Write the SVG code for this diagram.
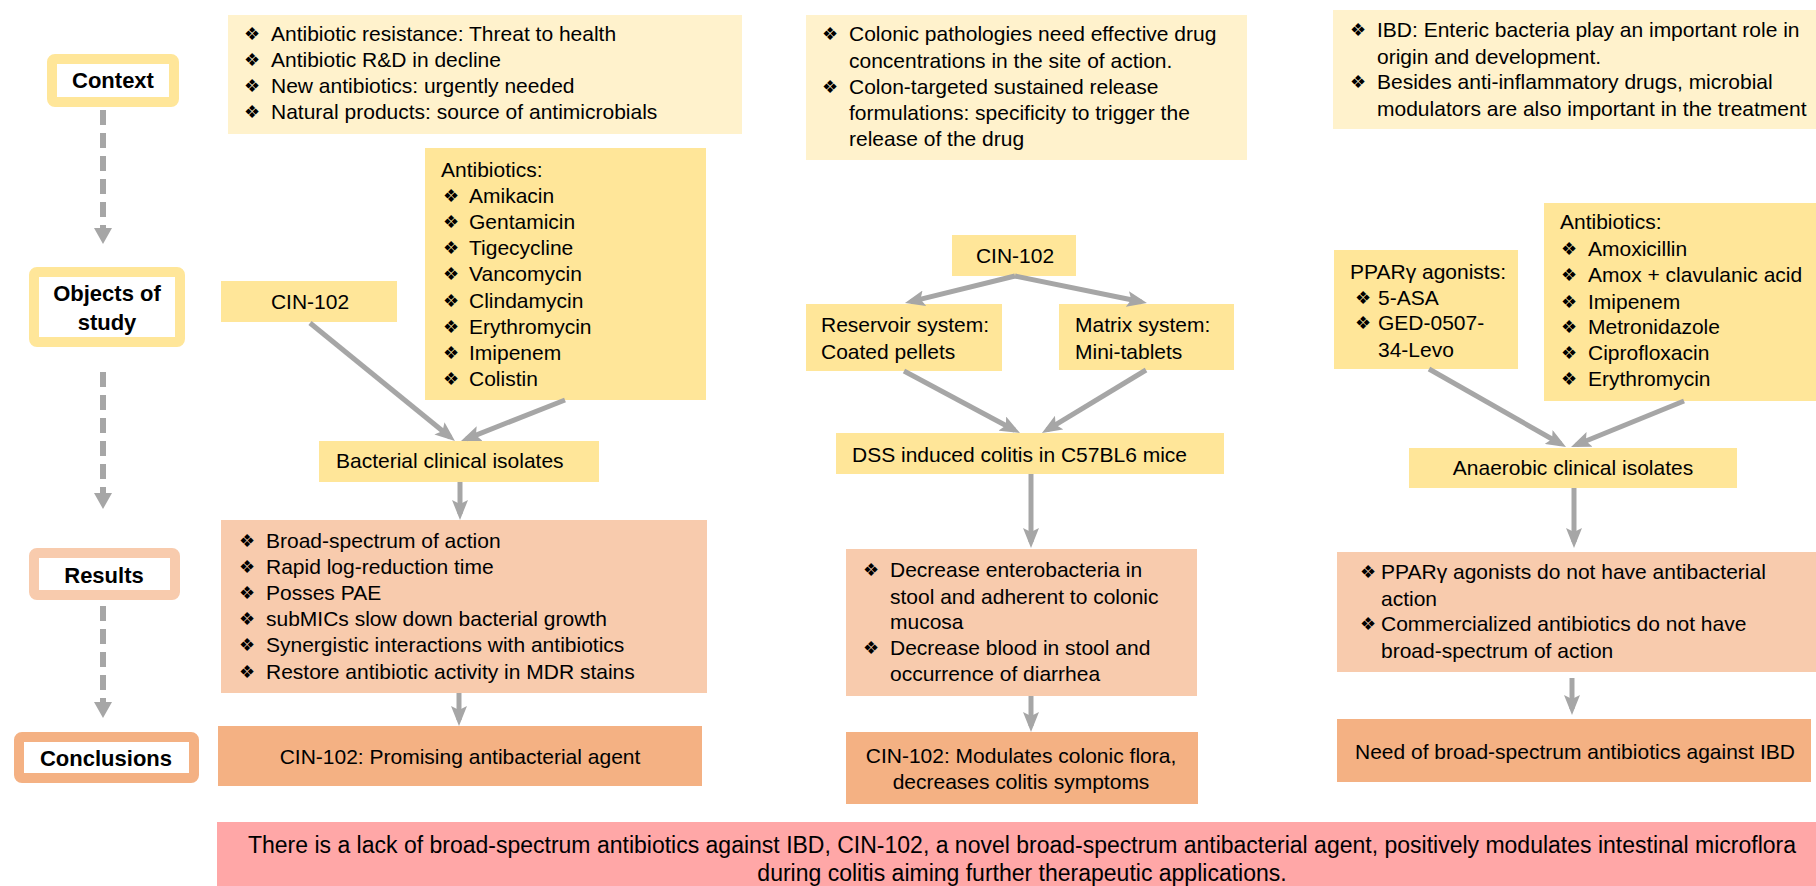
<svg xmlns="http://www.w3.org/2000/svg" width="1816" height="886" viewBox="0 0 1816 886">
<defs>
<style>
.t{font-family:"Liberation Sans",Arial,sans-serif;font-size:21px;fill:#000}
.c{text-anchor:middle}
.s{font-size:23px}
.lb{font-family:"Liberation Sans",Arial,sans-serif;font-size:22px;font-weight:bold;fill:#000;text-anchor:middle}
.bu{font-family:"DejaVu Sans",sans-serif;font-size:18px;fill:#000}
.ctx{fill:#FFF2CC}
.obj{fill:#FFE699}
.res{fill:#F8CBAD}
.con{fill:#F4B183}
.sum{fill:#FFA7A7}
.conn{stroke:#A6A6A6;stroke-width:5;fill:none;marker-end:url(#ah)}
.dash{stroke:#A6A6A6;stroke-width:6;fill:none;stroke-dasharray:15 8}
.head{fill:#A6A6A6}
</style>
<marker id="ah" viewBox="0 0 20 16" markerWidth="20" markerHeight="16" markerUnits="userSpaceOnUse" refX="14" refY="8" orient="auto">
<path d="M0,0 L20,8 L0,16 L4,8 z" fill="#A6A6A6"/>
</marker>
</defs>
<rect width="1816" height="886" fill="#fff"/>

<!-- Left labels -->
<g id="label-context">
<rect x="52" y="59" width="122" height="43" rx="3" fill="#fff" stroke="#FFE699" stroke-width="10"/>
<text class="lb" x="113" y="88">Context</text>
</g>
<g id="label-objects">
<rect x="34" y="272" width="146" height="70" rx="3" fill="#fff" stroke="#FFE699" stroke-width="10"/>
<text class="lb" x="107" y="301">Objects of</text>
<text class="lb" x="107" y="330">study</text>
</g>
<g id="label-results">
<rect x="34" y="553" width="141" height="42" rx="3" fill="#fff" stroke="#F8CBAD" stroke-width="10"/>
<text class="lb" x="104" y="583">Results</text>
</g>
<g id="label-conclusions">
<rect x="19" y="737" width="175" height="41" rx="3" fill="#fff" stroke="#F4B183" stroke-width="10"/>
<text class="lb" x="106" y="766">Conclusions</text>
</g>

<!-- Column 1 -->
<g id="ctx1">
<rect class="ctx" x="228" y="15" width="514" height="119"/>
<text class="bu" x="244" y="40">❖</text><text class="t" x="271" y="41">Antibiotic resistance: Threat to health</text>
<text class="bu" x="244" y="66">❖</text><text class="t" x="271" y="67">Antibiotic R&amp;D in decline</text>
<text class="bu" x="244" y="92">❖</text><text class="t" x="271" y="93">New antibiotics: urgently needed</text>
<text class="bu" x="244" y="118">❖</text><text class="t" x="271" y="119">Natural products: source of antimicrobials</text>
</g>
<g id="cin1">
<rect class="obj" x="221" y="281" width="176" height="41"/>
<text class="t c" x="310" y="309">CIN-102</text>
</g>
<g id="abx1">
<rect class="obj" x="425" y="148" width="281" height="252"/>
<text class="t" x="441" y="177">Antibiotics:</text>
<text class="bu" x="443" y="202">❖</text><text class="t" x="469" y="203">Amikacin</text>
<text class="bu" x="443" y="228">❖</text><text class="t" x="469" y="229">Gentamicin</text>
<text class="bu" x="443" y="254">❖</text><text class="t" x="469" y="255">Tigecycline</text>
<text class="bu" x="443" y="280">❖</text><text class="t" x="469" y="281">Vancomycin</text>
<text class="bu" x="443" y="307">❖</text><text class="t" x="469" y="308">Clindamycin</text>
<text class="bu" x="443" y="333">❖</text><text class="t" x="469" y="334">Erythromycin</text>
<text class="bu" x="443" y="359">❖</text><text class="t" x="469" y="360">Imipenem</text>
<text class="bu" x="443" y="385">❖</text><text class="t" x="469" y="386">Colistin</text>
</g>
<g id="bact1">
<rect class="obj" x="319" y="441" width="280" height="41"/>
<text class="t" x="336" y="468">Bacterial clinical isolates</text>
</g>
<g id="res1">
<rect class="res" x="221" y="520" width="486" height="173"/>
<text class="bu" x="239" y="547">❖</text><text class="t" x="266" y="548">Broad-spectrum of action</text>
<text class="bu" x="239" y="573">❖</text><text class="t" x="266" y="574">Rapid log-reduction time</text>
<text class="bu" x="239" y="599">❖</text><text class="t" x="266" y="600">Posses PAE</text>
<text class="bu" x="239" y="625">❖</text><text class="t" x="266" y="626">subMICs slow down bacterial growth</text>
<text class="bu" x="239" y="651">❖</text><text class="t" x="266" y="652">Synergistic interactions with antibiotics</text>
<text class="bu" x="239" y="678">❖</text><text class="t" x="266" y="679">Restore antibiotic activity in MDR stains</text>
</g>
<g id="con1">
<rect class="con" x="218" y="726" width="484" height="60"/>
<text class="t c" x="460" y="764">CIN-102: Promising antibacterial agent</text>
</g>

<!-- Column 2 -->
<g id="ctx2">
<rect class="ctx" x="806" y="15" width="441" height="145"/>
<text class="bu" x="822" y="40">❖</text><text class="t" x="849" y="41">Colonic pathologies need effective drug</text>
<text class="t" x="849" y="68">concentrations in the site of action.</text>
<text class="bu" x="822" y="93">❖</text><text class="t" x="849" y="94">Colon-targeted sustained release</text>
<text class="t" x="849" y="120">formulations: specificity to trigger the</text>
<text class="t" x="849" y="146">release of the drug</text>
</g>
<g id="cin2">
<rect class="obj" x="952" y="235" width="124" height="41"/>
<text class="t c" x="1015" y="263">CIN-102</text>
</g>
<g id="reservoir">
<rect class="obj" x="806" y="304" width="196" height="67"/>
<text class="t" x="821" y="332">Reservoir system:</text>
<text class="t" x="821" y="359">Coated pellets</text>
</g>
<g id="matrix">
<rect class="obj" x="1059" y="304" width="175" height="66"/>
<text class="t" x="1075" y="332">Matrix system:</text>
<text class="t" x="1075" y="359">Mini-tablets</text>
</g>
<g id="dss">
<rect class="obj" x="836" y="433" width="388" height="41"/>
<text class="t" x="852" y="462">DSS induced colitis in C57BL6 mice</text>
</g>
<g id="res2">
<rect class="res" x="846" y="549" width="351" height="147"/>
<text class="bu" x="863" y="576">❖</text><text class="t" x="890" y="577">Decrease enterobacteria in</text>
<text class="t" x="890" y="604">stool and adherent to colonic</text>
<text class="t" x="890" y="629">mucosa</text>
<text class="bu" x="863" y="654">❖</text><text class="t" x="890" y="655">Decrease blood in stool and</text>
<text class="t" x="890" y="681">occurrence of diarrhea</text>
</g>
<g id="con2">
<rect class="con" x="846" y="732" width="352" height="72"/>
<text class="t c" x="1021" y="763">CIN-102: Modulates colonic flora,</text>
<text class="t c" x="1021" y="789">decreases colitis symptoms</text>
</g>

<!-- Column 3 -->
<g id="ctx3">
<rect class="ctx" x="1333" y="10" width="483" height="119"/>
<text class="bu" x="1350" y="36">❖</text><text class="t" x="1377" y="37">IBD: Enteric bacteria play an important role in</text>
<text class="t" x="1377" y="64">origin and development.</text>
<text class="bu" x="1350" y="88">❖</text><text class="t" x="1377" y="89">Besides anti-inflammatory drugs, microbial</text>
<text class="t" x="1377" y="116">modulators are also important in the treatment</text>
</g>
<g id="ppar">
<rect class="obj" x="1334" y="250" width="184" height="119"/>
<text class="t" x="1350" y="279">PPARγ agonists:</text>
<text class="bu" x="1355" y="304">❖</text><text class="t" x="1378" y="305">5-ASA</text>
<text class="bu" x="1355" y="329">❖</text><text class="t" x="1378" y="330">GED-0507-</text>
<text class="t" x="1378" y="357">34-Levo</text>
</g>
<g id="abx3">
<rect class="obj" x="1544" y="203" width="272" height="198"/>
<text class="t" x="1560" y="229">Antibiotics:</text>
<text class="bu" x="1561" y="255">❖</text><text class="t" x="1588" y="256">Amoxicillin</text>
<text class="bu" x="1561" y="281">❖</text><text class="t" x="1588" y="282">Amox + clavulanic acid</text>
<text class="bu" x="1561" y="308">❖</text><text class="t" x="1588" y="309">Imipenem</text>
<text class="bu" x="1561" y="333">❖</text><text class="t" x="1588" y="334">Metronidazole</text>
<text class="bu" x="1561" y="359">❖</text><text class="t" x="1588" y="360">Ciprofloxacin</text>
<text class="bu" x="1561" y="385">❖</text><text class="t" x="1588" y="386">Erythromycin</text>
</g>
<g id="anaer">
<rect class="obj" x="1409" y="448" width="328" height="40"/>
<text class="t c" x="1573" y="475">Anaerobic clinical isolates</text>
</g>
<g id="res3">
<rect class="res" x="1337" y="552" width="479" height="120"/>
<text class="bu" x="1360" y="578">❖</text><text class="t" x="1381" y="579">PPARγ agonists do not have antibacterial</text>
<text class="t" x="1381" y="606">action</text>
<text class="bu" x="1360" y="630">❖</text><text class="t" x="1381" y="631">Commercialized antibiotics do not have</text>
<text class="t" x="1381" y="658">broad-spectrum of action</text>
</g>
<g id="con3">
<rect class="con" x="1337" y="719" width="474" height="63"/>
<text class="t c" x="1575" y="759">Need of broad-spectrum antibiotics against IBD</text>
</g>

<g id="summary">
<rect class="sum" x="217" y="822" width="1610" height="70"/>
<text class="t c s" x="1022" y="853">There is a lack of broad-spectrum antibiotics against IBD, CIN-102, a novel broad-spectrum antibacterial agent, positively modulates intestinal microflora</text>
<text class="t c s" x="1022" y="881">during colitis aiming further therapeutic applications.</text>
</g>

<g id="connectors">
<line class="dash" x1="103" y1="110" x2="103" y2="229"/>
<polygon class="head" points="94,228 112,228 103,244"/>
<line class="dash" x1="103" y1="372" x2="103" y2="494"/>
<polygon class="head" points="94,493 112,493 103,509"/>
<line class="dash" x1="103" y1="606" x2="103" y2="703"/>
<polygon class="head" points="94,702 112,702 103,718"/>

<line class="conn" x1="310" y1="323" x2="450.3" y2="437.2"/>
<line class="conn" x1="565" y1="400" x2="466.6" y2="438.8"/>
<line class="conn" x1="460" y1="482" x2="460" y2="514"/>
<line class="conn" x1="459" y1="693" x2="459" y2="720"/>

<line class="conn" x1="1015" y1="276" x2="910.8" y2="301.6"/>
<line class="conn" x1="1015" y1="276" x2="1141.1" y2="301.8"/>
<line class="conn" x1="904" y1="371" x2="1014.7" y2="430.2"/>
<line class="conn" x1="1146" y1="370" x2="1047.1" y2="429.9"/>
<line class="conn" x1="1031" y1="474" x2="1031" y2="542"/>
<line class="conn" x1="1031" y1="696" x2="1031" y2="726"/>

<line class="conn" x1="1429" y1="369" x2="1560.8" y2="444.0"/>
<line class="conn" x1="1684" y1="401" x2="1576.6" y2="444.7"/>
<line class="conn" x1="1574" y1="488" x2="1574" y2="542"/>
<line class="conn" x1="1572" y1="678" x2="1572" y2="709"/>
</g>
</svg>
